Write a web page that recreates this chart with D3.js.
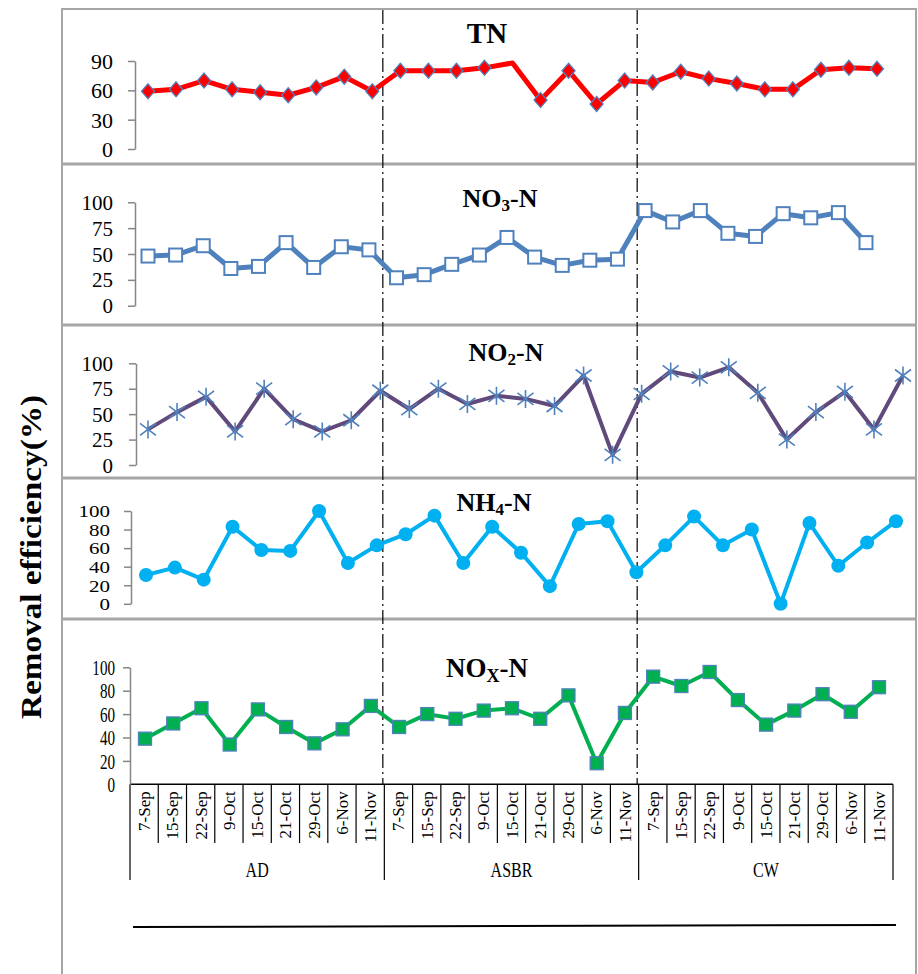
<!DOCTYPE html>
<html>
<head>
<meta charset="utf-8">
<script src="https://cdn.jsdelivr.net/npm/d3@7"></script>
<style>
  body { margin: 0; background: #fff; }
  text { font-family: "Liberation Serif", "Times New Roman", serif; }
</style>
</head>
<body>
<div id="chart"></div>
<script>

// categories

let dates = ["7-Sep", "15-Sep", "22-Sep", "9-Oct", "15-Oct", "21-Oct", "29-Oct", "6-Nov", "11-Nov"];
let systems = ["AD", "ASBR", "CW"];

// removal efficiency (%) per sampling date, AD then ASBR then CW

let tnValues = [59, 61, 70, 61, 58, 55, 63, 74, 59,
                80, 80, 80, 83, 88, 50, 80, 46, 70,
                68, 79, 72, 67, 61, 61, 81, 83, 82];
let tnNoMarker = [13];

let no3Values = [48, 49, 58, 36, 38, 61, 37, 57, 54,
                 27, 30, 40, 49, 66, 47, 39, 44, 45,
                 92, 81, 92, 70, 67, 89, 85, 90, 61];

let no2Values = [35, 52, 67, 33, 75, 45, 33, 44, 73,
                 55, 75, 60, 68, 65, 58, 88, 10, 70,
                 92, 86, 96, 71, 25, 52, 72, 35, 88];

let nh4Values = [31, 39, 26, 83, 58, 57, 100, 44, 63,
                 75, 95, 44, 83, 55, 19, 86, 89, 34,
                 63, 94, 63, 80, 0, 87, 41, 66, 89];

let noxValues = [39, 52, 65, 34, 64, 49, 35, 47, 67,
                 49, 60, 56, 63, 65, 56, 76, 18, 61,
                 92, 84, 96, 72, 51, 63, 77, 62, 83];

// tick labels

let ticksTN = [0, 30, 60, 90];
let ticks25 = [0, 25, 50, 75, 100];
let ticks20 = [0, 20, 40, 60, 80, 100];

let W = 918, H = 974;

let svg = d3.select("#chart")
  .append("svg")
    .attr("width", W)
    .attr("height", H);

let categories = [];
systems.forEach(s => dates.forEach(d => categories.push(s + "|" + d)));

// panel setup (layout of each pasted sub-chart)

let panels = [
  { title: "TN", sub: null, values: tnValues, ticks: ticksTN, yMax: 90,
    y0: 149, y1: 61, axisX: 135, xFirst: 148, xLast: 877, labelDx: -22, fs: 22, sx: 1, sy: 1,
    titleX: 487, titleY: 43, titleFs: 29,
    color: "#ff0000", lw: 5, marker: "diamond" },
  { title: "NO", sub: "3", values: no3Values, ticks: ticks25, yMax: 100,
    y0: 305.7, y1: 202.3, axisX: 135, xFirst: 148, xLast: 866, labelDx: -22, fs: 21, sx: 1, sy: 1,
    titleX: 500, titleY: 207, titleFs: 26,
    color: "#4f81bd", lw: 5, marker: "openSquare" },
  { title: "NO", sub: "2", values: no2Values, ticks: ticks25, yMax: 100,
    y0: 465, y1: 363.3, axisX: 136, xFirst: 148, xLast: 903, labelDx: -23, fs: 21, sx: 1, sy: 1,
    titleX: 506, titleY: 361, titleFs: 26,
    color: "#604a7b", lw: 4, marker: "star" },
  { title: "NH", sub: "4", values: nh4Values, ticks: ticks20, yMax: 100,
    y0: 603.8, y1: 511, axisX: 131, xFirst: 146, xLast: 896, labelDx: -21, fs: 21, sx: 1, sy: 0.82,
    titleX: 494, titleY: 511, titleFs: 26,
    color: "#00b0f0", lw: 4, marker: "circle" },
  { title: "NO", sub: "X", values: noxValues, ticks: ticks20, yMax: 100,
    y0: 784.3, y1: 667.3, axisX: 130, xFirst: 145, xLast: 879, labelDx: -15, fs: 21, sx: 0.72, sy: 1,
    titleX: 487, titleY: 677, titleFs: 27,
    color: "#00b050", lw: 4, marker: "greenSquare" }
];

// outer frame and panel separators

svg.append("rect")
  .attr("x", 62)
  .attr("y", 9)
  .attr("width", 854)
  .attr("height", 1000)
  .attr("fill", "none")
  .attr("stroke", "#a6a6a6")
  .attr("stroke-width", 2);

svg.selectAll(".sep")
  .data([164, 325, 478, 619])
  .join("line")
  .attr("x1", 62)
  .attr("x2", 916)
  .attr("y1", d => d)
  .attr("y2", d => d)
  .attr("stroke", "#a6a6a6")
  .attr("stroke-width", 3);

// x axis of the bottom panel (category table)

let xBand = d3.scaleBand()
  .domain(categories)
  .range([130, 893]);

let axisY = 784.3;

svg.append("line")
  .attr("x1", 130)
  .attr("x2", 893)
  .attr("y1", axisY)
  .attr("y2", axisY)
  .attr("stroke", "#000")
  .attr("stroke-width", 1.5);

let bounds = categories.map(c => xBand(c)).concat([xBand.range()[1]]);

svg.selectAll(".catLine")
  .data(bounds)
  .join("line")
  .attr("x1", d => d)
  .attr("x2", d => d)
  .attr("y1", axisY)
  .attr("y2", (d, i) => i % 9 === 0 ? 880 : 843)
  .attr("stroke", "#000")
  .attr("stroke-width", 1.2);

svg.selectAll(".dateLabel")
  .data(categories)
  .join("text")
  .attr("transform", d => `translate(${xBand(d) + xBand.bandwidth() / 2 + 6},${axisY + 7}) rotate(-90)`)
  .attr("text-anchor", "end")
  .style("font-size", "17px")
  .text(d => d.split("|")[1]);

svg.selectAll(".groupLabel")
  .data(systems)
  .join("text")
  .attr("transform", d => {
    let first = xBand(d + "|" + dates[0]);
    let last = xBand(d + "|" + dates[dates.length - 1]) + xBand.bandwidth();
    return `translate(${(first + last) / 2},877) scale(0.8,1)`;
  })
  .attr("text-anchor", "middle")
  .style("font-size", "20px")
  .text(d => d);

svg.append("line")
  .attr("x1", 133)
  .attr("x2", 896)
  .attr("y1", 927)
  .attr("y2", 925)
  .attr("stroke", "#000")
  .attr("stroke-width", 2);

// dash-dot separators between systems

svg.selectAll(".sysSep")
  .data([xBand(systems[1] + "|" + dates[0]), xBand(systems[2] + "|" + dates[0])])
  .join("line")
  .attr("x1", d => d - 1.5)
  .attr("x2", d => d - 1.5)
  .attr("y1", 10)
  .attr("y2", axisY)
  .attr("stroke", "#000")
  .attr("stroke-width", 1.2)
  .attr("stroke-dasharray", "14,4,2,4");

// y axis title

svg.append("text")
  .attr("transform", `translate(41,557) rotate(-90) scale(1.04,0.92)`)
  .attr("text-anchor", "middle")
  .style("font-size", "32px")
  .style("font-weight", "bold")
  .text("Removal efficiency(%)");

// marker shapes

function drawMarker(g, type) {
  if (type === "diamond") {
    g.append("path")
      .attr("d", "M0,-7.5L6.5,0L0,7.5L-6.5,0Z")
      .attr("fill", "#ff0000")
      .attr("stroke", "#4f81bd")
      .attr("stroke-width", 1.3);
  } else if (type === "openSquare") {
    g.append("rect")
      .attr("x", -6.5).attr("y", -6.5)
      .attr("width", 13).attr("height", 13)
      .attr("fill", "#fff")
      .attr("stroke", "#4f81bd")
      .attr("stroke-width", 2);
  } else if (type === "star") {
    g.append("path")
      .attr("d", "M0,-9L0,9M-8,-6L8,6M-8,6L8,-6")
      .attr("fill", "none")
      .attr("stroke", "#4f81bd")
      .attr("stroke-width", 1.6);
  } else if (type === "circle") {
    g.append("circle")
      .attr("r", 7)
      .attr("fill", "#00b0f0");
  } else {
    g.append("rect")
      .attr("x", -6.5).attr("y", -6.5)
      .attr("width", 13).attr("height", 13)
      .attr("fill", "#00b050")
      .attr("stroke", "#4f81bd")
      .attr("stroke-width", 1.3);
  }
}

// draw each panel

panels.forEach((p, pi) => {

  let x = d3.scalePoint()
    .domain(categories)
    .range([p.xFirst, p.xLast]);

  let y = d3.scaleLinear()
    .domain([0, p.yMax])
    .range([p.y0, p.y1]);

  let gAxis = svg.append("g")
    .attr("transform", `translate(${p.axisX},0)`)
    .call(d3.axisLeft(y)
      .tickValues(p.ticks)
      .tickSize(7)
      .tickSizeOuter(0)
      .tickPadding(0));

  gAxis.select(".domain")
    .attr("stroke", "#868686")
    .attr("stroke-width", 1.5);

  gAxis.selectAll(".tick line")
    .attr("stroke", "#868686")
    .attr("stroke-width", 1.5);

  gAxis.selectAll(".tick text")
    .attr("x", null)
    .attr("dy", "0.34em")
    .attr("transform", `translate(${p.labelDx},0) scale(${p.sx},${p.sy})`)
    .attr("fill", "#000")
    .style("font-size", p.fs + "px")
    .style("font-family", "'Liberation Serif', 'Times New Roman', serif");

  if (pi === 4) {
    gAxis.selectAll(".tick").filter(d => d === 0).select("line").remove();
  }

  // title

  let t = svg.append("text")
    .attr("x", p.titleX)
    .attr("y", p.titleY)
    .attr("text-anchor", "middle")
    .style("font-size", p.titleFs + "px")
    .style("font-weight", "bold");

  if (p.sub) {
    t.append("tspan").text(p.title);
    t.append("tspan")
      .attr("dy", "0.25em")
      .style("font-size", Math.round(p.titleFs * 0.65) + "px")
      .text(p.sub);
    t.append("tspan").attr("dy", "-0.16em").text("-N");
  } else {
    t.text(p.title);
  }

  let line = d3.line()
    .x((d, i) => x(categories[i]))
    .y(d => y(d));

  svg.append("path")
    .datum(p.values)
    .attr("fill", "none")
    .attr("stroke", p.color)
    .attr("stroke-width", p.lw)
    .attr("stroke-linejoin", "round")
    .attr("d", line);

  let pts = p.values
    .map((v, i) => ({ v, i }))
    .filter(d => !(pi === 0 && tnNoMarker.includes(d.i)));

  svg.selectAll(".m" + pi)
    .data(pts)
    .join("g")
    .attr("transform", d => `translate(${x(categories[d.i])},${y(d.v)})`)
    .each(function () { drawMarker(d3.select(this), p.marker); });
});

</script>
</body>
</html>
